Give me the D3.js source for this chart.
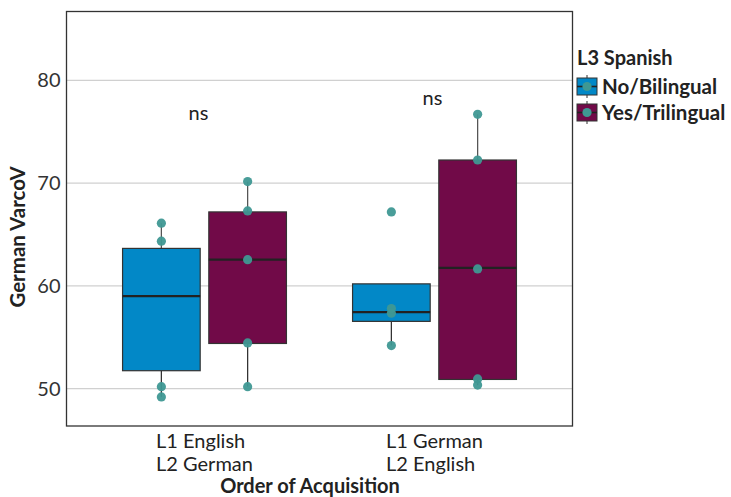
<!DOCTYPE html>
<html>
<head>
<meta charset="utf-8">
<script src="https://cdn.jsdelivr.net/npm/d3@7"></script>
<style>
  body { margin: 0; background: #fff; }
  text { font-family: Lato, "Open Sans", sans-serif; }
</style>
</head>
<body>
<div id="chart"></div>
<script>
// categories
var groups = ['L1 English|L2 German', 'L1 German|L2 English'];
var series = ['No/Bilingual', 'Yes/Trilingual'];
var colors = ['#0288c7', '#710a48'];

// box stats per group/series: [lower whisker, q1, median, q3, upper whisker]
var boxEnglishFirst = [[49.2, 51.75, 59.0, 63.65, 66.1], [50.2, 54.4, 62.55, 67.2, 70.15]];
var boxGermanFirst = [[54.2, 56.55, 57.45, 60.2, 60.2], [50.35, 50.9, 61.75, 72.25, 76.7]];

// observed points
var ptsEnglishFirst = [[66.1, 64.35, 50.2, 49.2], [70.15, 67.3, 62.55, 54.45, 50.2]];
var ptsGermanFirst = [[67.2, 57.8, 57.35, 54.2], [76.7, 72.25, 61.65, 50.95, 50.35]];

// significance labels
var sigLabels = ['ns', 'ns'];
var sigY = [76.8, 78.3];

var yTicks = [50, 60, 70, 80];

var W = 731, H = 497;
var panel = {left: 66.5, right: 572.5, top: 11.5, bottom: 426};
var teal = '#3f9893';

var svg = d3.select('#chart').append('svg')
  .attr('width', W)
  .attr('height', H);

var x = d3.scalePoint()
  .domain(groups)
  .range([panel.left, panel.right])
  .padding(0.6);

var step = x.step();
var xSub = d3.scaleBand()
  .domain(series)
  .range([-0.375 * step, 0.375 * step])
  .paddingInner(0.1)
  .paddingOuter(0.05);

var y = d3.scaleLinear()
  .domain([46.37, 86.7])
  .range([panel.bottom, panel.top]);

// grid
svg.append('g')
  .selectAll('line')
  .data(yTicks)
  .join('line')
  .attr('x1', panel.left)
  .attr('x2', panel.right)
  .attr('y1', function(d){ return y(d); })
  .attr('y2', function(d){ return y(d); })
  .style('stroke', '#d0d0d0')
  .style('stroke-width', 1.3);

// build box records
var boxes = [];
var allBoxes = [boxEnglishFirst, boxGermanFirst];
var allPts = [ptsEnglishFirst, ptsGermanFirst];
groups.forEach(function(g, gi){
  series.forEach(function(s, si){
    var st = allBoxes[gi][si];
    boxes.push({
      group: g, series: s, color: colors[si],
      lo: st[0], q1: st[1], med: st[2], q3: st[3], hi: st[4],
      pts: allPts[gi][si]
    });
  });
});

function cx(d){ return x(d.group) + xSub(d.series) + xSub.bandwidth() / 2; }

var bg = svg.append('g').selectAll('g')
  .data(boxes)
  .join('g');

// whiskers
bg.append('line')
  .attr('x1', cx).attr('x2', cx)
  .attr('y1', function(d){ return y(d.hi); })
  .attr('y2', function(d){ return y(d.q3); })
  .style('stroke', '#555')
  .style('stroke-width', 1.3);
bg.append('line')
  .attr('x1', cx).attr('x2', cx)
  .attr('y1', function(d){ return y(d.q1); })
  .attr('y2', function(d){ return y(d.lo); })
  .style('stroke', '#333')
  .style('stroke-width', 1.3);

// boxes
bg.append('rect')
  .attr('x', function(d){ return x(d.group) + xSub(d.series); })
  .attr('width', xSub.bandwidth())
  .attr('y', function(d){ return y(d.q3); })
  .attr('height', function(d){ return y(d.q1) - y(d.q3); })
  .style('fill', function(d){ return d.color; })
  .style('stroke', '#333')
  .style('stroke-width', 1.2);

// medians
bg.append('line')
  .attr('x1', function(d){ return x(d.group) + xSub(d.series); })
  .attr('x2', function(d){ return x(d.group) + xSub(d.series) + xSub.bandwidth(); })
  .attr('y1', function(d){ return y(d.med); })
  .attr('y2', function(d){ return y(d.med); })
  .style('stroke', '#222')
  .style('stroke-width', 2.2);

// points
bg.selectAll('circle')
  .data(function(d){ return d.pts.map(function(v){ return {v: v, x: cx(d)}; }); })
  .join('circle')
  .attr('cx', function(p){ return p.x; })
  .attr('cy', function(p){ return y(p.v); })
  .attr('r', 4.6)
  .style('fill', teal)
  .style('opacity', 0.95);

// significance labels
svg.append('g').selectAll('text')
  .data(groups)
  .join('text')
  .attr('x', function(g, i){ return x(g) - (i === 0 ? 6 : 2); })
  .attr('y', function(g, i){ return y(sigY[i]); })
  .attr('dy', '0.35em')
  .attr('text-anchor', 'middle')
  .attr('font-size', 20)
  .style('fill', '#222')
  .text(function(g, i){ return sigLabels[i]; });

// panel border
svg.append('rect')
  .attr('x', panel.left)
  .attr('y', panel.top)
  .attr('width', panel.right - panel.left)
  .attr('height', panel.bottom - panel.top)
  .style('fill', 'none')
  .style('stroke', '#333')
  .style('stroke-width', 1.3);

// y axis
var yAxis = svg.append('g')
  .attr('transform', 'translate(' + panel.left + ',0)')
  .call(d3.axisLeft(y).tickValues(yTicks).tickSize(0).tickPadding(6));
yAxis.select('.domain').remove();
yAxis.selectAll('text')
  .attr('font-size', 20)
  .attr('font-family', 'Lato, sans-serif')
  .style('fill', '#333');

// x tick labels: left-aligned two-line blocks centred on the group
var xl = svg.append('g').selectAll('text')
  .data(groups)
  .join('text')
  .attr('font-size', 20)
  .style('fill', '#222');
xl.each(function(g){
  var t = d3.select(this);
  g.split('|').forEach(function(line, i){
    t.append('tspan').attr('y', 448 + i * 23).text(line);
  });
  var wmax = 0;
  t.selectAll('tspan').each(function(){ wmax = Math.max(wmax, this.getComputedTextLength()); });
  t.selectAll('tspan').attr('x', x(g) - wmax / 2);
});

// axis titles
svg.append('text')
  .attr('x', 310)
  .attr('y', 493)
  .attr('text-anchor', 'middle')
  .attr('font-size', 20)
  .attr('font-weight', 'bold')
  .style('fill', '#222')
  .text('Order of Acquisition');

svg.append('text')
  .attr('transform', 'translate(25,237) rotate(-90)')
  .attr('text-anchor', 'middle')
  .attr('font-size', 20.5)
  .attr('font-weight', 'bold')
  .style('fill', '#222')
  .text('German VarcoV');

// legend
var lg = svg.append('g').attr('transform', 'translate(577,0)');
lg.append('text')
  .attr('x', 0)
  .attr('y', 65)
  .attr('font-size', 20)
  .attr('font-weight', 'bold')
  .style('fill', '#222')
  .text('L3 Spanish');

var items = lg.selectAll('g.item')
  .data(series)
  .join('g')
  .attr('class', 'item')
  .attr('transform', function(d, i){ return 'translate(0,' + (78 + i * 26) + ')'; });
items.append('line')
  .attr('x1', 10).attr('x2', 10)
  .attr('y1', -3).attr('y2', 20)
  .style('stroke', '#333')
  .style('stroke-width', 1);
items.append('rect')
  .attr('x', 0).attr('y', 0)
  .attr('width', 20).attr('height', 17)
  .style('fill', function(d, i){ return colors[i]; })
  .style('stroke', '#333')
  .style('stroke-width', 1);
items.append('line')
  .attr('x1', 0).attr('x2', 20)
  .attr('y1', 8.5).attr('y2', 8.5)
  .style('stroke', '#222')
  .style('stroke-width', 1.6);
items.append('circle')
  .attr('cx', 10).attr('cy', 8.5)
  .attr('r', 4.6)
  .style('fill', teal);
items.append('text')
  .attr('x', 25)
  .attr('y', 8.5)
  .attr('dy', '0.35em')
  .attr('font-size', 20.5)
  .attr('font-weight', 'bold')
  .style('fill', '#222')
  .text(function(d){ return d; });
</script>
</body>
</html>
